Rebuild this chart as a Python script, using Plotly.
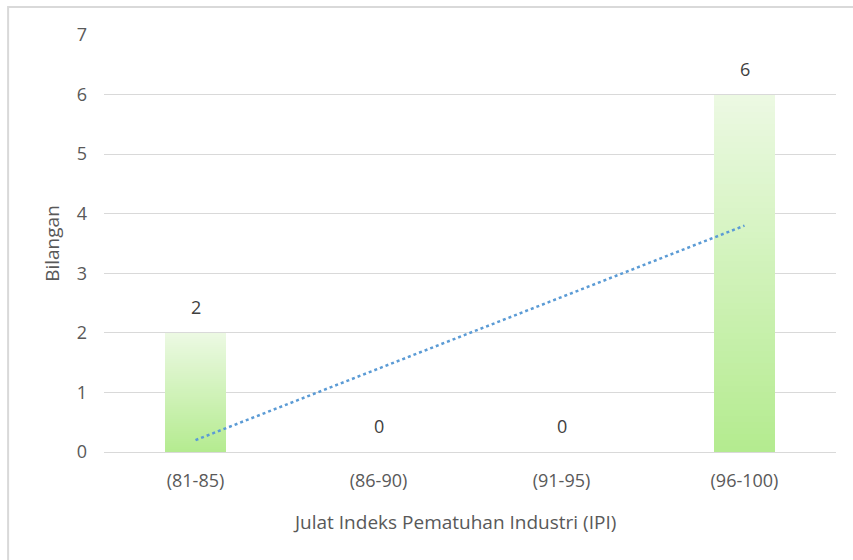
import numpy as np
import plotly.graph_objects as go

categories = ["(81-85)", "(86-90)", "(91-95)", "(96-100)"]
values = [2, 0, 0, 6]
y_ticks = [0, 1, 2, 3, 4, 5, 6, 7]
x_title = "Julat Indeks Pematuhan Industri (IPI)"
y_title = "Bilangan"

N_SEG = 60
top_rgb = np.array([236, 249, 227])
bot_rgb = np.array([180, 235, 143])

fig = go.Figure()
for i in range(N_SEG):
    t = (i + 0.5) / N_SEG
    c = bot_rgb + (top_rgb - bot_rgb) * t
    fig.add_trace(go.Bar(
        x=categories,
        y=[v / N_SEG for v in values],
        marker=dict(color="rgb(%d,%d,%d)" % tuple(c.round().astype(int)), line=dict(width=0)),
        width=0.33,
        showlegend=False,
        hoverinfo="skip",
    ))

# linear trendline
xs = np.arange(len(values))
slope, intercept = np.polyfit(xs, values, 1)
trend = slope * xs + intercept
fig.add_trace(go.Scatter(
    x=categories, y=trend, mode="lines",
    line=dict(color="#5b9bd5", width=2.5, dash="dot"),
    showlegend=False,
))

for c, v in zip(categories, values):
    fig.add_annotation(x=c, y=v, text=str(v), showarrow=False, yshift=26,
                       font=dict(size=18, color="#404040"))

# x-axis title (slightly left of centre, as in the original)
fig.add_annotation(xref="paper", yref="paper", x=0.4795, y=-0.168, text=x_title,
                   showarrow=False, xanchor="center", yanchor="middle",
                   font=dict(size=19, color="#595959"))

# chart border (top and left visible)
fig.add_shape(type="rect", xref="paper", yref="paper",
              x0=-0.131, x1=1.2, y0=-0.5, y1=1.067,
              line=dict(color="#d9d9d9", width=2), layer="below")

fig.update_layout(
    width=853, height=560,
    barmode="stack",
    bargap=0,
    plot_bgcolor="white",
    paper_bgcolor="white",
    margin=dict(l=104, r=17, t=35, b=108, autoexpand=False),
    font=dict(family="Open Sans", color="#595959", size=18),
    xaxis=dict(
        showgrid=False, showline=False, ticks="",
        tickfont=dict(size=18, color="#595959"), ticklabelstandoff=16,
        automargin=False,
    ),
    yaxis=dict(
        range=[0, 7], tickvals=y_ticks, showgrid=True, gridcolor="#d9d9d9", gridwidth=1.2,
        zeroline=True, zerolinecolor="#d9d9d9", zerolinewidth=1.2,
        tickfont=dict(size=18, color="#595959"), ticklabelstandoff=16,
        title=dict(text=y_title, font=dict(size=19, color="#595959"), standoff=12),
        automargin=False,
    ),
)

fig.write_html("out.html", config={"displayModeBar": False},
               post_script="document.body.style.margin='0';")
